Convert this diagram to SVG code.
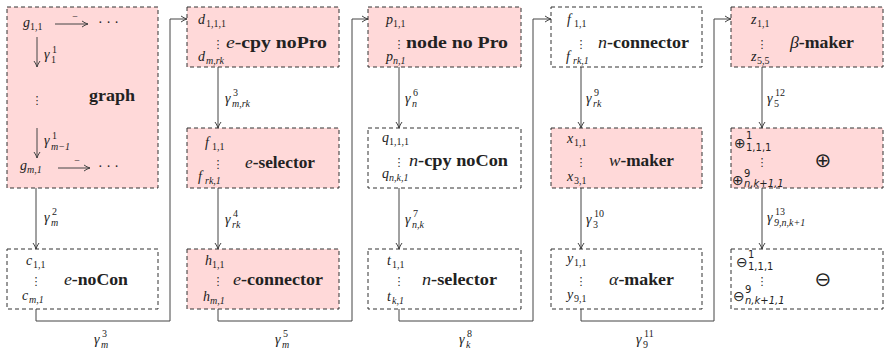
<svg xmlns="http://www.w3.org/2000/svg" width="885" height="352" viewBox="0 0 885 352" font-family="Liberation Serif, DejaVu Serif, serif">
<style>
.box{stroke:#333;stroke-width:1;stroke-dasharray:4 3;fill:#fff}
.pk{fill:#ffd9d9}
.b{font-weight:bold;font-size:16px;fill:#222}
.it{font-style:italic;font-weight:normal}
.m{font-style:italic;font-size:14px;fill:#222}
.s{font-style:italic;font-size:10px;fill:#222}
.up{font-style:normal}
.d{font-family:'DejaVu Sans',sans-serif;font-size:11px;fill:#222}
.op{font-family:'DejaVu Sans',sans-serif;font-size:14px;fill:#222}
.big{font-family:'DejaVu Sans',sans-serif;font-size:20px;fill:#222}
.ln{stroke:#444;stroke-width:1;fill:none}
</style>
<defs>
<marker id="ah" viewBox="0 0 8 8" refX="7" refY="4" markerWidth="8" markerHeight="8" markerUnits="userSpaceOnUse" orient="auto">
<path d="M1,1 Q4,3.2 7,4 Q4,4.8 1,7" fill="none" stroke="#444" stroke-width="1"/>
</marker>
</defs>

<g id="connectors">
<path class="ln" d="M36,188 V249" marker-end="url(#ah)"/>
<path class="ln" d="M218,67 V128" marker-end="url(#ah)"/>
<path class="ln" d="M218,188 V249" marker-end="url(#ah)"/>
<path class="ln" d="M399,67 V128" marker-end="url(#ah)"/>
<path class="ln" d="M399,188 V249" marker-end="url(#ah)"/>
<path class="ln" d="M581,67 V128" marker-end="url(#ah)"/>
<path class="ln" d="M581,188 V249" marker-end="url(#ah)"/>
<path class="ln" d="M762,67 V128" marker-end="url(#ah)"/>
<path class="ln" d="M762,188 V249" marker-end="url(#ah)"/>
<path class="ln" d="M36,309 V321 H170 V19 H187" marker-end="url(#ah)"/>
<path class="ln" d="M218,309 V321 H352 V19 H368" marker-end="url(#ah)"/>
<path class="ln" d="M399,309 V321 H533 V19 H551" marker-end="url(#ah)"/>
<path class="ln" d="M581,309 V321 H714 V19 H731" marker-end="url(#ah)"/>
<text class="m" x="44" y="222">γ<tspan class="s up" x="52" y="215">2</tspan><tspan class="s" x="51" y="226">m</tspan></text>
<text class="m" x="225" y="103">γ<tspan class="s up" x="233" y="96">3</tspan><tspan class="s" x="232" y="107">m,rk</tspan></text>
<text class="m" x="225" y="224">γ<tspan class="s up" x="233" y="217">4</tspan><tspan class="s" x="232" y="228">rk</tspan></text>
<text class="m" x="405" y="103">γ<tspan class="s up" x="413" y="96">6</tspan><tspan class="s" x="412" y="107">n</tspan></text>
<text class="m" x="405" y="224">γ<tspan class="s up" x="413" y="217">7</tspan><tspan class="s" x="412" y="228">n,k</tspan></text>
<text class="m" x="586" y="103">γ<tspan class="s up" x="594" y="96">9</tspan><tspan class="s" x="593" y="107">rk</tspan></text>
<text class="m" x="586" y="224">γ<tspan class="s up" x="594" y="217">10</tspan><tspan class="s up" x="593" y="228">3</tspan></text>
<text class="m" x="767" y="103">γ<tspan class="s up" x="775" y="96">12</tspan><tspan class="s up" x="774" y="107">5</tspan></text>
<text class="m" x="767" y="222">γ<tspan class="s up" x="775" y="215">13</tspan><tspan class="s" x="774" y="226">9,n,k+1</tspan></text>
<text class="m" x="94" y="344">γ<tspan class="s up" x="102" y="337">3</tspan><tspan class="s" x="101" y="348">m</tspan></text>
<text class="m" x="275" y="344">γ<tspan class="s up" x="283" y="337">5</tspan><tspan class="s" x="282" y="348">m</tspan></text>
<text class="m" x="459" y="344">γ<tspan class="s up" x="467" y="337">8</tspan><tspan class="s" x="466" y="348">k</tspan></text>
<text class="m" x="636" y="344">γ<tspan class="s up" x="644" y="337">11</tspan><tspan class="s up" x="643" y="348">9</tspan></text>
</g>

<g id="graph">
<rect class="box pk" x="7" y="7" width="151" height="181"/>
<text class="m" x="23" y="27">g<tspan class="s up" x="30" y="30">1,1</tspan></text>
<path class="ln" d="M55,24 H88" marker-end="url(#ah)"/>
<text class="s up" x="75" y="20" text-anchor="middle">−</text>
<text class="m up" x="98" y="27">· · ·</text>
<path class="ln" d="M37,37 V67" marker-end="url(#ah)"/>
<text class="m" x="44" y="59">γ<tspan class="s up" x="52" y="53">1</tspan><tspan class="s up" x="51" y="63">1</tspan></text>
<text class="d" x="37" y="104" text-anchor="middle">⋮</text>
<text class="b" x="89" y="101" textLength="46" lengthAdjust="spacingAndGlyphs">graph</text>
<path class="ln" d="M37,128 V158" marker-end="url(#ah)"/>
<text class="m" x="44" y="145">γ<tspan class="s up" x="52" y="139">1</tspan><tspan class="s" x="51" y="150">m−1</tspan></text>
<text class="m" x="20" y="170">g<tspan class="s" x="27" y="173">m,1</tspan></text>
<path class="ln" d="M58,168 H90" marker-end="url(#ah)"/>
<text class="s up" x="77" y="164" text-anchor="middle">−</text>
<text class="m up" x="98" y="171">· · ·</text>
</g>

<g id="e-noCon">
<rect class="box" x="7" y="249" width="151" height="60"/>
<text class="m" x="26" y="265">c<tspan class="s up" x="33" y="268">1,1</tspan></text>
<text class="d" x="36" y="285" text-anchor="middle">⋮</text>
<text class="b" x="64" y="285" textLength="64" lengthAdjust="spacingAndGlyphs"><tspan class="it">e</tspan>-noCon</text>
<text class="m" x="22" y="300">c<tspan class="s" x="29" y="303">m,1</tspan></text>
</g>

<g id="e-cpy-noPro">
<rect class="box pk" x="187" y="7" width="152" height="60"/>
<text class="m" x="198" y="24">d<tspan class="s up" x="206" y="27">1,1,1</tspan></text>
<text class="d" x="218" y="48" text-anchor="middle">⋮</text>
<text class="b" x="226" y="48" textLength="101" lengthAdjust="spacingAndGlyphs"><tspan class="it">e</tspan>-cpy noPro</text>
<text class="m" x="198" y="61">d<tspan class="s" x="206" y="64">m,rk</tspan></text>
</g>

<g id="e-selector">
<rect class="box pk" x="187" y="128" width="152" height="60"/>
<text class="m" x="205" y="147">f<tspan class="s up" x="212" y="150">1,1</tspan></text>
<text class="d" x="218" y="168" text-anchor="middle">⋮</text>
<text class="b" x="245" y="168" textLength="70" lengthAdjust="spacingAndGlyphs"><tspan class="it">e</tspan>-selector</text>
<text class="m" x="198" y="181">f<tspan class="s" x="205" y="184">rk,1</tspan></text>
</g>

<g id="e-connector">
<rect class="box pk" x="187" y="249" width="152" height="60"/>
<text class="m" x="205" y="265">h<tspan class="s up" x="212" y="268">1,1</tspan></text>
<text class="d" x="218" y="285" text-anchor="middle">⋮</text>
<text class="b" x="233" y="285" textLength="90" lengthAdjust="spacingAndGlyphs"><tspan class="it">e</tspan>-connector</text>
<text class="m" x="203" y="301">h<tspan class="s" x="210" y="304">m,1</tspan></text>
</g>

<g id="node-no-Pro">
<rect class="box pk" x="368" y="7" width="153" height="60"/>
<text class="m" x="386" y="24">p<tspan class="s up" x="393" y="27">1,1</tspan></text>
<text class="d" x="399" y="48" text-anchor="middle">⋮</text>
<text class="b" x="406" y="48" textLength="102" lengthAdjust="spacingAndGlyphs">node no Pro</text>
<text class="m" x="386" y="61">p<tspan class="s" x="393" y="64">n,1</tspan></text>
</g>

<g id="n-cpy-noCon">
<rect class="box" x="368" y="128" width="153" height="60"/>
<text class="m" x="382" y="142">q<tspan class="s up" x="389" y="145">1,1,1</tspan></text>
<text class="d" x="399" y="166" text-anchor="middle">⋮</text>
<text class="b" x="409" y="166" textLength="99" lengthAdjust="spacingAndGlyphs"><tspan class="it">n</tspan>-cpy noCon</text>
<text class="m" x="382" y="178">q<tspan class="s" x="389" y="181">n,k,1</tspan></text>
</g>

<g id="n-selector">
<rect class="box" x="368" y="249" width="153" height="60"/>
<text class="m" x="387" y="265">t<tspan class="s up" x="392" y="268">1,1</tspan></text>
<text class="d" x="399" y="285" text-anchor="middle">⋮</text>
<text class="b" x="422" y="285" textLength="75" lengthAdjust="spacingAndGlyphs"><tspan class="it">n</tspan>-selector</text>
<text class="m" x="387" y="301">t<tspan class="s" x="392" y="304">k,1</tspan></text>
</g>

<g id="n-connector">
<rect class="box" x="551" y="7" width="151" height="60"/>
<text class="m" x="567" y="24">f<tspan class="s up" x="574" y="27">1,1</tspan></text>
<text class="d" x="581" y="48" text-anchor="middle">⋮</text>
<text class="b" x="598" y="48" textLength="91" lengthAdjust="spacingAndGlyphs"><tspan class="it">n</tspan>-connector</text>
<text class="m" x="566" y="61">f<tspan class="s" x="573" y="64">rk,1</tspan></text>
</g>

<g id="w-maker">
<rect class="box pk" x="551" y="128" width="151" height="60"/>
<text class="m" x="567" y="143">x<tspan class="s up" x="574" y="146">1,1</tspan></text>
<text class="d" x="581" y="166" text-anchor="middle">⋮</text>
<text class="b" x="609" y="166" textLength="65" lengthAdjust="spacingAndGlyphs"><tspan class="it">w</tspan>-maker</text>
<text class="m" x="567" y="181">x<tspan class="s up" x="574" y="184">3,1</tspan></text>
</g>

<g id="alpha-maker">
<rect class="box" x="551" y="249" width="151" height="60"/>
<text class="m" x="567" y="263">y<tspan class="s up" x="574" y="266">1,1</tspan></text>
<text class="d" x="581" y="285" text-anchor="middle">⋮</text>
<text class="b" x="609" y="285" textLength="65" lengthAdjust="spacingAndGlyphs"><tspan class="it">α</tspan>-maker</text>
<text class="m" x="567" y="299">y<tspan class="s up" x="574" y="302">9,1</tspan></text>
</g>

<g id="beta-maker">
<rect class="box pk" x="731" y="7" width="152" height="60"/>
<text class="m" x="751" y="24">z<tspan class="s up" x="757" y="27">1,1</tspan></text>
<text class="d" x="762" y="48" text-anchor="middle">⋮</text>
<text class="b" x="790" y="48" textLength="64" lengthAdjust="spacingAndGlyphs"><tspan class="it">β</tspan>-maker</text>
<text class="m" x="751" y="61">z<tspan class="s up" x="757" y="64">5,5</tspan></text>
</g>

<g id="oplus">
<rect class="box pk" x="731" y="128" width="152" height="60"/>
<text class="op" x="734" y="148">⊕<tspan class="s up" x="746" y="139">1</tspan><tspan class="s up" x="746" y="151">1,1,1</tspan></text>
<text class="d" x="762" y="166" text-anchor="middle">⋮</text>
<text class="big" x="823" y="167" text-anchor="middle">⊕</text>
<text class="op" x="732" y="185">⊕<tspan class="s up" x="744" y="177">9</tspan><tspan class="s" x="744" y="187">n,k+1,1</tspan></text>
</g>

<g id="ominus">
<rect class="box" x="731" y="249" width="152" height="60"/>
<text class="op" x="736" y="267">⊖<tspan class="s up" x="748" y="258">1</tspan><tspan class="s up" x="748" y="270">1,1,1</tspan></text>
<text class="d" x="762" y="285" text-anchor="middle">⋮</text>
<text class="big" x="823" y="286" text-anchor="middle">⊖</text>
<text class="op" x="733" y="301">⊖<tspan class="s up" x="745" y="293">9</tspan><tspan class="s" x="745" y="304">n,k+1,1</tspan></text>
</g>
</svg>
